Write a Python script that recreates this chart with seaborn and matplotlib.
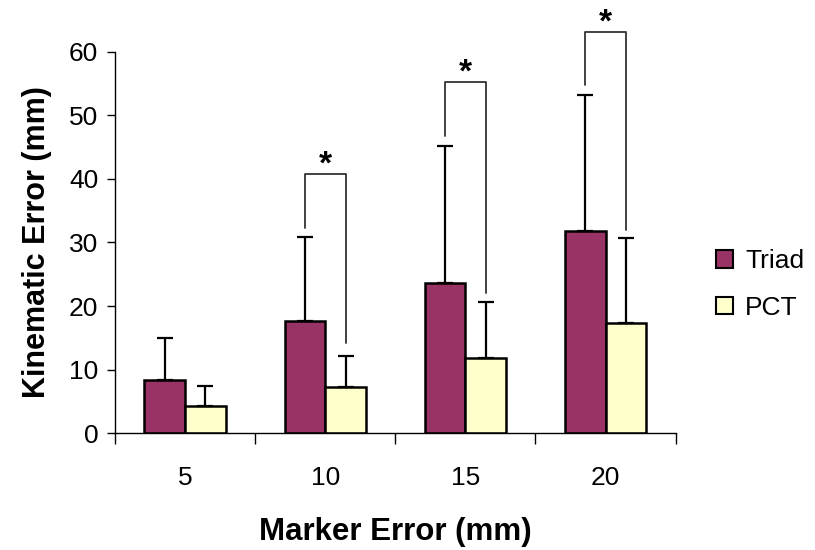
import matplotlib
matplotlib.use("Agg")
import matplotlib.pyplot as plt
import seaborn as sns
import pandas as pd
import numpy as np
from matplotlib.ticker import FixedLocator

categories = ["5", "10", "15", "20"]
series = ["Triad", "PCT"]
triad_mean = [8.3, 17.6, 23.6, 31.8]
triad_err = [6.7, 13.2, 21.6, 21.4]
pct_mean = [4.3, 7.2, 11.8, 17.3]
pct_err = [3.1, 5.0, 8.9, 13.4]
# significance brackets: category index, left leg bottom, right leg bottom, top
sig_cats = [1, 2, 3]
sig_left = [32.3, 46.7, 54.8]
sig_right = [14.2, 22.0, 32.0]
sig_top = [40.8, 55.3, 63.2]
y_ticks = [0, 10, 20, 30, 40, 50, 60]

colors = {"Triad": "#993366", "PCT": "#FFFFCC"}

sns.set_theme(style="white")
plt.rcParams['font.family'] = ['Liberation Sans', 'DejaVu Sans']
plt.rcParams.update({"text.color": "black", "axes.labelcolor": "black",
                     "xtick.color": "black", "ytick.color": "black"})

df = pd.DataFrame({
    "cat": categories * 2,
    "series": ["Triad"] * 4 + ["PCT"] * 4,
    "val": triad_mean + pct_mean,
})

fig = plt.figure(figsize=(8.15, 5.5), dpi=100)
ax = fig.add_axes([0.141, 0.2127, 0.688, 0.6928])
sns.barplot(data=df, x="cat", y="val", hue="series", order=categories,
            hue_order=series, palette=colors, width=0.58, errorbar=None,
            saturation=1, edgecolor="black", linewidth=1.8, ax=ax, legend=True)

# error bars (upper only)
bars = ax.patches[:8]
centers = {}
for s_i, s in enumerate(series):
    means = triad_mean if s == "Triad" else pct_mean
    errs = triad_err if s == "Triad" else pct_err
    xs = [bars[s_i * 4 + i].get_x() + bars[s_i * 4 + i].get_width() / 2 for i in range(4)]
    centers[s] = xs
    ax.errorbar(xs, means, yerr=[np.zeros(4), errs], fmt="none", ecolor="black",
                elinewidth=1.6, capsize=6, capthick=1.6, zorder=1)

# significance brackets
for c, yl, yr, yt in zip(sig_cats, sig_left, sig_right, sig_top):
    xl = centers["Triad"][c]
    xr = centers["PCT"][c]
    ax.plot([xl, xl, xr, xr], [yl, yt, yt, yr], color="#333333", lw=1.3,
            clip_on=False)
    ax.text((xl + xr) / 2, yt + 1.4, "*", ha="center", va="center",
            fontsize=24, fontweight="bold", clip_on=False)

ax.set_ylim(0, 60)
ax.set_xlim(-0.5, 3.5)
ax.set_yticks(y_ticks)
ax.tick_params(axis="y", labelsize=19, length=6, width=1, direction="out",
               left=True, color="black", pad=6)
ax.tick_params(axis="x", which="major", labelsize=19, length=0, pad=24)
ax.xaxis.set_minor_locator(FixedLocator([-0.5, 0.5, 1.5, 2.5, 3.5]))
ax.tick_params(axis="x", which="minor", length=8, width=1, bottom=True,
               color="black")
for sp in ["top", "right"]:
    ax.spines[sp].set_visible(False)
for sp in ["left", "bottom"]:
    ax.spines[sp].set_color("black")
    ax.spines[sp].set_linewidth(1)

ax.set_xlabel("Marker Error (mm)", fontsize=22.5, fontweight="bold", labelpad=19)
ax.set_ylabel("Kinematic Error (mm)", fontsize=22, fontweight="bold", labelpad=12)

leg = ax.legend(loc="center left", bbox_to_anchor=(1.03, 0.39), frameon=False,
                fontsize=19, handlelength=0.65, handleheight=0.65,
                handletextpad=0.45, labelspacing=0.85)
for h in leg.legend_handles:
    h.set_linewidth(1.5)

fig.savefig("out.png", dpi=100)
